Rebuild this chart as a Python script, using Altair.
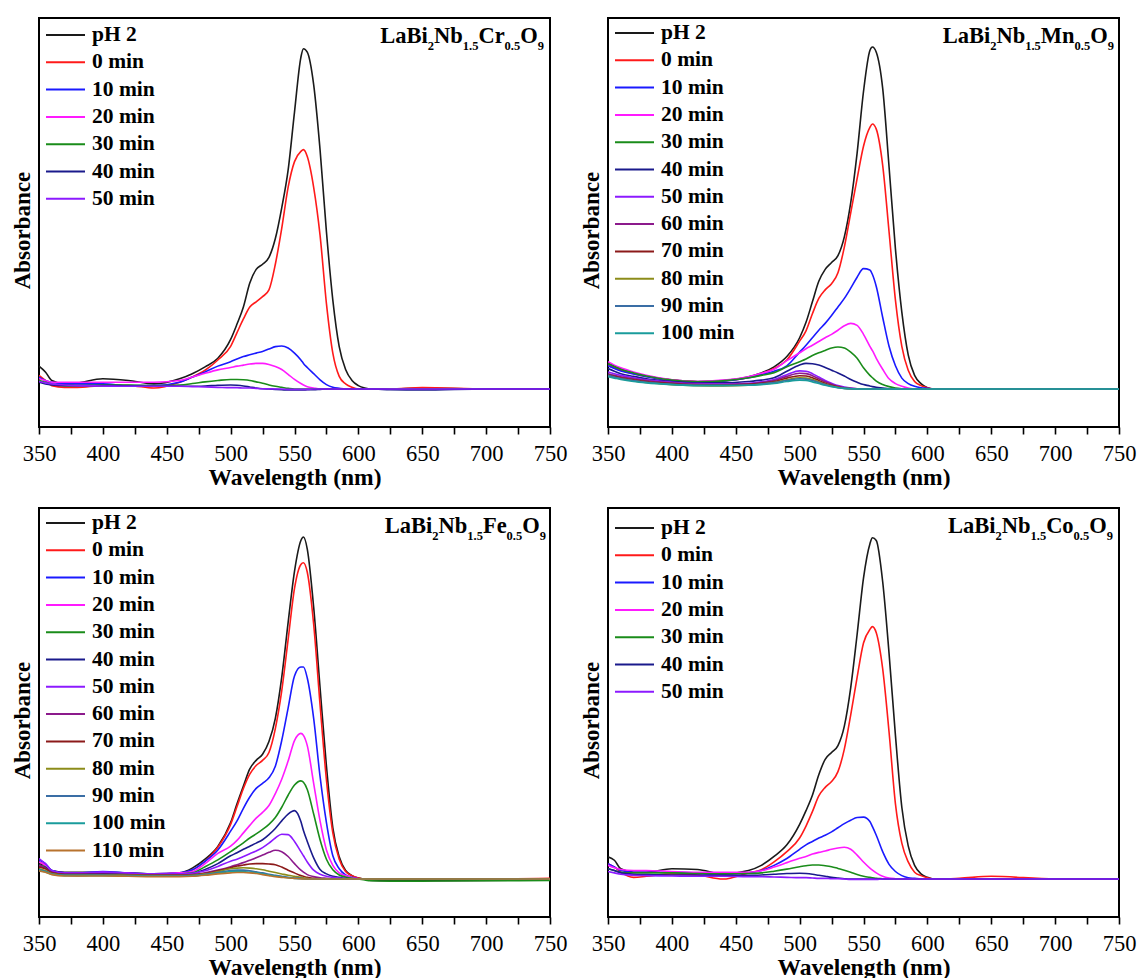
import altair as alt
import pandas as pd

# Wavelength grid (nm) shared by every spectrum
WAVELENGTH = [350, 355, 360, 370, 380, 400, 420, 440, 460, 470, 480, 490,
              500, 505, 510, 515, 520, 525, 530, 535, 540, 545, 550, 555,
              557,
              560, 565, 570, 575, 580, 585, 590, 595, 600, 605, 610,
              625, 650, 700, 750]

SERIES = ["pH 2", "0 min", "10 min", "20 min", "30 min", "40 min", "50 min",
          "60 min", "70 min", "80 min", "90 min", "100 min", "110 min"]
LINE_COLORS = ["#1a1a1a", "#ff1a1a", "#1a1aff", "#ff1aff", "#1a8c1a", "#1a1a8c", "#8c1aff",
               "#8c1a8c", "#8c1a1a", "#8c8c1a", "#3a6ea5", "#1a9c9c", "#b8732e"]

# ---- LaBi2Nb1.5Cr0.5O9 ----
CR_PH2 = [0.067, 0.05, 0.025, 0.015, 0.018, 0.03, 0.025, 0.015, 0.03, 0.045, 0.065, 0.09,
          0.145, 0.19, 0.24, 0.31, 0.35, 0.365, 0.385, 0.44, 0.53, 0.64, 0.81, 0.97,
          0.995,
          0.985, 0.89, 0.70, 0.46, 0.26, 0.124, 0.057, 0.025, 0.01, 0.003, 0.0,
          0.0, 0.003, 0.0, 0.0]
CR_0 = [0.04, 0.025, 0.01, 0.005, 0.005, 0.01, 0.01, 0.003, 0.02, 0.035, 0.055, 0.085,
        0.125, 0.165, 0.205, 0.24, 0.255, 0.27, 0.29, 0.365, 0.47, 0.59, 0.665, 0.695,
        0.70,
        0.68, 0.59, 0.45, 0.25, 0.105, 0.037, 0.015, 0.005, 0.0, 0.0, 0.0,
        0.0, 0.004, 0.0, 0.0]
CR_10 = [0.035, 0.025, 0.02, 0.015, 0.015, 0.015, 0.01, 0.01, 0.02, 0.035, 0.05, 0.067,
         0.08, 0.088, 0.095, 0.1, 0.105, 0.11, 0.117, 0.124, 0.126, 0.12, 0.105, 0.085,
         0.075,
         0.063, 0.045, 0.027, 0.013, 0.005, 0.002, 0.0, 0.0, 0.0, 0.0, 0.0,
         0.0, 0.0, 0.0, 0.0]
CR_20 = [0.03, 0.025, 0.02, 0.02, 0.02, 0.02, 0.02, 0.02, 0.025, 0.035, 0.046, 0.056,
         0.063, 0.067, 0.07, 0.073, 0.075, 0.075, 0.072, 0.066, 0.057, 0.043, 0.028, 0.016,
         0.012,
         0.007, 0.003, 0.0, 0.0, 0.0, 0.0, 0.0, 0.0, 0.0, 0.0, 0.0,
         0.0, 0.0, 0.0, 0.0]
CR_30 = [0.025, 0.02, 0.015, 0.01, 0.01, 0.012, 0.012, 0.01, 0.012, 0.016, 0.021, 0.025,
         0.028, 0.028, 0.027, 0.025, 0.021, 0.017, 0.012, 0.008, 0.005, 0.002, 0.0, 0.0,
         0.0,
         0.0, 0.0, 0.0, 0.0, 0.0, 0.0, 0.0, 0.0, 0.0, 0.0, 0.0,
         0.0, 0.0, 0.0, 0.0]
CR_40 = [0.02, 0.015, 0.012, 0.01, 0.01, 0.01, 0.009, 0.008, 0.008, 0.008, 0.009, 0.011,
         0.012, 0.011, 0.009, 0.006, 0.003, 0.001, 0.0, -0.001, -0.002, -0.003, -0.003, -0.003,
         -0.003,
         -0.002, -0.002, -0.001, 0.0, 0.0, 0.0, 0.0, 0.0, 0.0, 0.0, 0.0,
         -0.002, -0.003, 0.0, 0.0]
CR_50 = [0.022, 0.018, 0.015, 0.012, 0.01, 0.009, 0.008, 0.008, 0.008, 0.007, 0.006, 0.005,
         0.004, 0.004, 0.003, 0.003, 0.002, 0.001, 0.001, 0.0, 0.0, -0.001, -0.001, -0.001,
         -0.001,
         -0.001, 0.0, 0.0, 0.0, 0.0, 0.0, 0.0, 0.0, 0.0, 0.0, 0.0,
         0.0, 0.0, 0.0, 0.0]

# ---- LaBi2Nb1.5Mn0.5O9 ----
MN_PH2 = [0.075, 0.066, 0.058, 0.047, 0.038, 0.027, 0.022, 0.025, 0.036, 0.047, 0.065, 0.095,
          0.15, 0.195, 0.255, 0.315, 0.35, 0.37, 0.39, 0.445, 0.545, 0.69, 0.87, 0.99,
          1.0,
          0.985, 0.88, 0.65, 0.41, 0.225, 0.1, 0.04, 0.016, 0.004, 0.0, 0.0,
          0.0, 0.0, 0.0, 0.0]
MN_0 = [0.07, 0.062, 0.055, 0.045, 0.037, 0.026, 0.021, 0.024, 0.034, 0.045, 0.06, 0.085,
        0.14, 0.17, 0.22, 0.265, 0.29, 0.308, 0.34, 0.415, 0.515, 0.615, 0.71, 0.765,
        0.775,
        0.76, 0.655, 0.46, 0.26, 0.125, 0.055, 0.022, 0.01, 0.004, 0.0, 0.0,
        0.0, 0.0, 0.0, 0.0]
MN_10 = [0.068, 0.06, 0.053, 0.044, 0.036, 0.025, 0.02, 0.023, 0.033, 0.042, 0.052, 0.068,
         0.108, 0.128, 0.15, 0.172, 0.192, 0.215, 0.24, 0.265, 0.295, 0.327, 0.352, 0.348,
         0.335,
         0.3, 0.21, 0.125, 0.068, 0.032, 0.016, 0.008, 0.004, 0.002, 0.0, 0.0,
         0.0, 0.0, 0.0, 0.0]
MN_20 = [0.08, 0.07, 0.062, 0.05, 0.04, 0.027, 0.022, 0.026, 0.036, 0.046, 0.058, 0.083,
         0.106, 0.118, 0.128, 0.139, 0.15, 0.16, 0.172, 0.185, 0.192, 0.186, 0.16, 0.125,
         0.112,
         0.09, 0.058, 0.03, 0.016, 0.008, 0.003, 0.0, 0.0, 0.0, 0.0, 0.0,
         0.0, 0.0, 0.0, 0.0]
MN_30 = [0.074, 0.066, 0.058, 0.047, 0.038, 0.026, 0.021, 0.024, 0.033, 0.04, 0.048, 0.065,
         0.08, 0.088, 0.098, 0.106, 0.113, 0.12, 0.123, 0.12, 0.108, 0.09, 0.062, 0.04,
         0.033,
         0.023, 0.013, 0.007, 0.003, 0.001, 0.0, 0.0, 0.0, 0.0, 0.0, 0.0,
         0.0, 0.0, 0.0, 0.0]
MN_40 = [0.06, 0.052, 0.045, 0.037, 0.03, 0.022, 0.018, 0.018, 0.022, 0.026, 0.033, 0.052,
         0.07, 0.075, 0.074, 0.07, 0.063, 0.055, 0.047, 0.038, 0.028, 0.02, 0.013, 0.009,
         0.007,
         0.005, 0.003, 0.001, 0.0, 0.0, 0.0, 0.0, 0.0, 0.0, 0.0, 0.0,
         0.0, 0.0, 0.0, 0.0]
MN_50 = [0.05, 0.045, 0.04, 0.033, 0.027, 0.02, 0.016, 0.015, 0.017, 0.021, 0.028, 0.042,
         0.053, 0.052, 0.045, 0.035, 0.025, 0.017, 0.01, 0.006, 0.003, 0.001, 0.0, 0.0,
         0.0,
         0.0, 0.0, 0.0, 0.0, 0.0, 0.0, 0.0, 0.0, 0.0, 0.0, 0.0,
         0.0, 0.0, 0.0, 0.0]
MN_60 = [0.045, 0.04, 0.036, 0.03, 0.025, 0.018, 0.014, 0.013, 0.015, 0.019, 0.025, 0.037,
         0.046, 0.045, 0.039, 0.03, 0.021, 0.014, 0.008, 0.004, 0.002, 0.001, 0.0, 0.0,
         0.0,
         0.0, 0.0, 0.0, 0.0, 0.0, 0.0, 0.0, 0.0, 0.0, 0.0, 0.0,
         0.0, 0.0, 0.0, 0.0]
MN_70 = [0.042, 0.037, 0.033, 0.027, 0.022, 0.016, 0.012, 0.012, 0.014, 0.017, 0.022, 0.032,
         0.039, 0.038, 0.033, 0.025, 0.017, 0.011, 0.006, 0.003, 0.001, 0.0, 0.0, 0.0,
         0.0,
         0.0, 0.0, 0.0, 0.0, 0.0, 0.0, 0.0, 0.0, 0.0, 0.0, 0.0,
         0.0, 0.0, 0.0, 0.0]
MN_80 = [0.038, 0.034, 0.03, 0.024, 0.019, 0.013, 0.01, 0.009, 0.011, 0.014, 0.019, 0.027,
         0.033, 0.032, 0.028, 0.021, 0.014, 0.009, 0.005, 0.002, 0.001, 0.0, 0.0, 0.0,
         0.0,
         0.0, 0.0, 0.0, 0.0, 0.0, 0.0, 0.0, 0.0, 0.0, 0.0, 0.0,
         0.0, 0.0, 0.0, 0.0]
MN_90 = [0.04, 0.035, 0.031, 0.025, 0.02, 0.014, 0.011, 0.011, 0.012, 0.015, 0.019, 0.025,
         0.03, 0.029, 0.025, 0.019, 0.013, 0.008, 0.004, 0.002, 0.001, 0.0, 0.0, 0.0,
         0.0,
         0.0, 0.0, 0.0, 0.0, 0.0, 0.0, 0.0, 0.0, 0.0, 0.0, 0.0,
         0.0, 0.0, 0.0, 0.0]
MN_100 = [0.036, 0.032, 0.028, 0.022, 0.018, 0.013, 0.01, 0.01, 0.011, 0.013, 0.016, 0.022,
          0.026, 0.025, 0.021, 0.016, 0.011, 0.007, 0.004, 0.002, 0.001, 0.0, 0.0, 0.0,
          0.0,
          0.0, 0.0, 0.0, 0.0, 0.0, 0.0, 0.0, 0.0, 0.0, 0.0, 0.0,
          0.0, 0.0, 0.0, 0.0]

# ---- LaBi2Nb1.5Fe0.5O9 ----
FE_PH2 = [0.045, 0.04, 0.025, 0.02, 0.02, 0.02, 0.018, 0.015, 0.018, 0.032, 0.058, 0.095,
          0.165, 0.22, 0.272, 0.322, 0.347, 0.365, 0.402, 0.47, 0.59, 0.75, 0.9, 0.99,
          1.0,
          0.965, 0.795, 0.56, 0.33, 0.15, 0.065, 0.025, 0.01, 0.003, 0.0, -0.004,
          -0.005, -0.005, -0.004, -0.003]
FE_0 = [0.05, 0.04, 0.02, 0.012, 0.01, 0.012, 0.01, 0.008, 0.015, 0.026, 0.052, 0.093,
        0.16, 0.212, 0.265, 0.307, 0.332, 0.347, 0.37, 0.44, 0.55, 0.7, 0.85, 0.92,
        0.925,
        0.897, 0.745, 0.51, 0.29, 0.135, 0.058, 0.022, 0.01, 0.003, 0.0, 0.0,
        0.0, 0.0, 0.0, 0.002]
FE_10 = [0.055, 0.045, 0.025, 0.018, 0.018, 0.022, 0.018, 0.015, 0.018, 0.027, 0.052, 0.085,
         0.14, 0.17, 0.207, 0.24, 0.265, 0.28, 0.296, 0.33, 0.405, 0.5, 0.594, 0.62,
         0.62,
         0.588, 0.47, 0.3, 0.165, 0.068, 0.03, 0.012, 0.005, 0.001, 0.0, 0.0,
         0.0, 0.0, 0.0, 0.0]
FE_20 = [0.05, 0.04, 0.022, 0.017, 0.017, 0.02, 0.017, 0.015, 0.018, 0.022, 0.045, 0.075,
         0.096, 0.113, 0.135, 0.157, 0.178, 0.195, 0.215, 0.25, 0.292, 0.345, 0.405, 0.426,
         0.42,
         0.39, 0.28, 0.17, 0.085, 0.04, 0.018, 0.01, 0.004, 0.001, 0.0, 0.0,
         0.0, 0.0, 0.0, 0.0]
FE_30 = [0.04, 0.035, 0.02, 0.015, 0.015, 0.016, 0.015, 0.013, 0.015, 0.018, 0.036, 0.056,
         0.08, 0.093, 0.106, 0.12, 0.132, 0.145, 0.16, 0.18, 0.21, 0.245, 0.275, 0.287,
         0.283,
         0.262, 0.19, 0.115, 0.058, 0.027, 0.012, 0.006, 0.002, 0.0, -0.003, -0.005,
         -0.006, -0.006, -0.005, -0.004]
FE_40 = [0.04, 0.033, 0.02, 0.015, 0.015, 0.015, 0.013, 0.012, 0.013, 0.016, 0.028, 0.045,
         0.068, 0.077, 0.087, 0.096, 0.105, 0.115, 0.13, 0.148, 0.17, 0.19, 0.2, 0.168,
         0.142,
         0.11, 0.062, 0.028, 0.015, 0.008, 0.005, 0.002, 0.0, 0.0, 0.0, 0.0,
         0.0, 0.0, 0.0, 0.0]
FE_50 = [0.06, 0.045, 0.025, 0.018, 0.018, 0.02, 0.017, 0.015, 0.015, 0.017, 0.024, 0.037,
         0.052, 0.058, 0.066, 0.074, 0.082, 0.092, 0.105, 0.12, 0.131, 0.13, 0.11, 0.08,
         0.068,
         0.05, 0.026, 0.014, 0.008, 0.005, 0.003, 0.001, 0.0, 0.0, 0.0, 0.0,
         0.0, 0.0, 0.0, 0.0]
FE_60 = [0.04, 0.032, 0.02, 0.014, 0.014, 0.014, 0.013, 0.012, 0.012, 0.013, 0.018, 0.026,
         0.036, 0.042, 0.048, 0.055, 0.062, 0.07, 0.078, 0.084, 0.08, 0.066, 0.045, 0.026,
         0.02,
         0.013, 0.007, 0.004, 0.002, 0.0, 0.0, 0.0, 0.0, 0.0, 0.0, 0.0,
         0.0, 0.0, 0.0, 0.0]
FE_70 = [0.035, 0.03, 0.018, 0.013, 0.013, 0.013, 0.012, 0.011, 0.011, 0.012, 0.016, 0.024,
         0.033, 0.038, 0.041, 0.044, 0.045, 0.045, 0.044, 0.042, 0.035, 0.026, 0.018, 0.01,
         0.008,
         0.005, 0.002, 0.0, 0.0, 0.0, 0.0, 0.0, 0.0, 0.0, 0.0, 0.0,
         0.0, 0.0, 0.0, 0.0]
FE_80 = [0.03, 0.025, 0.016, 0.012, 0.012, 0.012, 0.011, 0.01, 0.01, 0.011, 0.015, 0.022,
         0.03, 0.032, 0.033, 0.032, 0.03, 0.027, 0.023, 0.019, 0.015, 0.011, 0.008, 0.005,
         0.004,
         0.002, 0.0, 0.0, 0.0, 0.0, 0.0, 0.0, 0.0, 0.0, 0.0, 0.0,
         0.0, 0.0, 0.0, 0.0]
FE_90 = [0.028, 0.023, 0.015, 0.011, 0.011, 0.011, 0.01, 0.009, 0.009, 0.01, 0.013, 0.019,
         0.025, 0.026, 0.026, 0.024, 0.021, 0.018, 0.014, 0.011, 0.008, 0.005, 0.003, 0.002,
         0.001,
         0.0, 0.0, 0.0, 0.0, 0.0, 0.0, 0.0, 0.0, 0.0, 0.0, 0.0,
         0.0, 0.0, 0.0, 0.0]
FE_100 = [0.026, 0.021, 0.014, 0.01, 0.01, 0.01, 0.009, 0.008, 0.008, 0.009, 0.012, 0.017,
          0.022, 0.023, 0.022, 0.02, 0.018, 0.015, 0.012, 0.009, 0.006, 0.004, 0.002, 0.001,
          0.001,
          0.0, 0.0, 0.0, 0.0, 0.0, 0.0, 0.0, 0.0, 0.0, 0.0, 0.0,
          0.0, 0.0, 0.0, 0.0]
FE_110 = [0.024, 0.02, 0.013, 0.009, 0.009, 0.009, 0.008, 0.007, 0.007, 0.008, 0.011, 0.015,
          0.018, 0.019, 0.019, 0.018, 0.016, 0.013, 0.01, 0.007, 0.005, 0.003, 0.002, 0.001,
          0.0,
          0.0, 0.0, 0.0, 0.0, 0.0, 0.0, 0.0, 0.0, 0.0, 0.0, 0.0,
          0.0, 0.0, 0.0, 0.0]

# ---- LaBi2Nb1.5Co0.5O9 ----
CO_PH2 = [0.065, 0.055, 0.03, 0.02, 0.02, 0.03, 0.028, 0.015, 0.025, 0.04, 0.066, 0.1,
          0.16, 0.2, 0.245, 0.305, 0.35, 0.37, 0.39, 0.447, 0.56, 0.715, 0.88, 0.98,
          0.998,
          0.99, 0.87, 0.66, 0.42, 0.21, 0.097, 0.04, 0.015, 0.005, 0.0, 0.0,
          0.0, 0.0, 0.0, 0.0]
CO_0 = [0.045, 0.035, 0.02, 0.005, 0.008, 0.015, 0.012, 0.0, 0.018, 0.027, 0.05, 0.08,
        0.12, 0.155, 0.197, 0.243, 0.268, 0.285, 0.314, 0.38, 0.48, 0.59, 0.69, 0.73,
        0.738,
        0.72, 0.615, 0.43, 0.22, 0.105, 0.05, 0.02, 0.01, 0.004, 0.0, 0.0,
        0.002, 0.008, 0.0, 0.0]
CO_10 = [0.045, 0.035, 0.025, 0.02, 0.02, 0.02, 0.018, 0.015, 0.018, 0.025, 0.04, 0.06,
         0.087, 0.1, 0.11, 0.12, 0.128, 0.138, 0.15, 0.162, 0.172, 0.18, 0.181, 0.168,
         0.153,
         0.128, 0.08, 0.043, 0.022, 0.01, 0.004, 0.002, 0.0, 0.0, 0.0, 0.0,
         0.0, 0.0, 0.0, 0.0]
CO_20 = [0.04, 0.033, 0.028, 0.025, 0.025, 0.022, 0.02, 0.02, 0.02, 0.024, 0.035, 0.048,
         0.061, 0.066, 0.073, 0.078, 0.082, 0.087, 0.091, 0.093, 0.087, 0.07, 0.05, 0.032,
         0.026,
         0.018, 0.008, 0.003, 0.001, 0.0, 0.0, 0.0, 0.0, 0.0, 0.0, 0.0,
         0.0, 0.0, 0.0, 0.0]
CO_30 = [0.03, 0.025, 0.02, 0.018, 0.018, 0.018, 0.016, 0.015, 0.016, 0.018, 0.023, 0.029,
         0.036, 0.039, 0.041, 0.041, 0.039, 0.036, 0.031, 0.026, 0.02, 0.013, 0.008, 0.005,
         0.004,
         0.002, 0.001, 0.0, 0.0, 0.0, 0.0, 0.0, 0.0, 0.0, 0.0, 0.0,
         0.0, 0.0, 0.0, 0.0]
CO_40 = [0.03, 0.025, 0.018, 0.014, 0.013, 0.012, 0.012, 0.011, 0.011, 0.012, 0.014, 0.016,
         0.017, 0.016, 0.014, 0.011, 0.008, 0.005, 0.003, 0.001, 0.0, 0.0, 0.0, 0.0,
         0.0,
         0.0, 0.0, 0.0, 0.0, 0.0, 0.0, 0.0, 0.0, 0.0, 0.0, 0.0,
         0.0, 0.0, 0.0, 0.0]
CO_50 = [0.022, 0.018, 0.014, 0.011, 0.01, 0.009, 0.008, 0.008, 0.007, 0.007, 0.006, 0.005,
         0.004, 0.004, 0.003, 0.002, 0.002, 0.001, 0.001, 0.0, -0.001, -0.001, -0.001, -0.001,
         -0.001,
         -0.001, 0.0, 0.0, 0.0, 0.0, 0.0, 0.0, 0.0, 0.0, 0.0, 0.0,
         0.0, 0.0, 0.0, 0.0]

SERIF = "Liberation Serif"
PLOT_W, PLOT_H = 511, 409
Y_DOMAIN = [-0.111, 1.085]
ROW_STEP = 27.3
LABEL_SIZE = 21.5
MAIN_SIZE, SUB_SIZE, SUB_DROP = 22.5, 12.5, 7

# Times-style bold advance widths (per 1000 em) for laying out the formula pieces
BOLD_W = {"L": 667, "a": 500, "B": 667, "i": 278, "N": 722, "b": 556, "C": 722,
          "r": 444, "O": 778, "M": 944, "n": 556, "F": 611, "e": 444, "o": 500,
          ".": 250, "0": 500, "1": 500, "2": 500, "5": 500, "9": 500}

ONE = pd.DataFrame({"k": [0]})


def formula_marks(dopant, right, base):
    parts = [("LaBi", False), ("2", True), ("Nb", False), ("1.5", True),
             (dopant, False), ("0.5", True), ("O", False), ("9", True)]
    sizes = [SUB_SIZE if s else MAIN_SIZE for _, s in parts]
    widths = [sum(BOLD_W[c] for c in t) / 1000 * fs for (t, _), fs in zip(parts, sizes)]
    x = right - sum(widths)
    marks = []
    for (t, sub), fs, w in zip(parts, sizes, widths):
        marks.append(
            alt.Chart(ONE).mark_text(text=t, align="left", baseline="alphabetic", font=SERIF,
                                     fontWeight="bold", fontSize=fs, color="black")
            .encode(x=alt.value(x), y=alt.value(base + (SUB_DROP if sub else 0)))
        )
        x += w
    return marks


def panel(curves, labels, dopant, legend_top, right_gap):
    n = len(curves)
    names = SERIES[:n]
    rows = []
    for name, vals in zip(names, curves):
        for wl, a in zip(WAVELENGTH, vals):
            rows.append({"wavelength": wl, "absorbance": a, "series": name})
    df = pd.DataFrame(rows)
    color_scale = alt.Scale(domain=names, range=LINE_COLORS[:n])

    x_axis = alt.Axis(values=list(range(350, 751, 25)),
                      labelExpr="datum.value % 50 === 0 ? datum.label : ''",
                      tickSize=7, tickWidth=1.6, tickColor="black", domain=False, grid=False,
                      labelFont=SERIF, labelFontSize=22.5, labelColor="black", labelPadding=8,
                      labelOverlap=False, labelFlush=False,
                      title="Wavelength (nm)", titleFont=SERIF, titleFontSize=23.5,
                      titleFontWeight="bold", titleColor="black", titleY=57,
                      titleBaseline="alphabetic")
    y_axis = alt.Axis(title="Absorbance", ticks=False, labels=False, domain=False, grid=False,
                      titleFont=SERIF, titleFontSize=23, titleFontWeight="bold",
                      titleColor="black", titleX=-17, titleY=212, titleBaseline="middle",
                      titleAlign="center", titleAngle=270)

    lines = alt.Chart(df).mark_line(strokeWidth=1.6, interpolate="monotone", clip=True).encode(
        x=alt.X("wavelength:Q", scale=alt.Scale(domain=[350, 750], nice=False, zero=False),
                axis=x_axis),
        y=alt.Y("absorbance:Q", scale=alt.Scale(domain=Y_DOMAIN, nice=False, zero=False),
                axis=y_axis),
        color=alt.Color("series:N", scale=color_scale, legend=None),
    )

    legend_df = pd.DataFrame({"series": names, "label": labels, "idx": list(range(n))})
    idx_scale = alt.Scale(domain=[-legend_top / ROW_STEP, (PLOT_H - legend_top) / ROW_STEP],
                          reverse=True, nice=False, zero=False)
    key_lines = alt.Chart(legend_df).mark_rule(strokeWidth=2).encode(
        x=alt.value(7), x2=alt.value(46),
        y=alt.Y("idx:Q", scale=idx_scale, axis=None),
        color=alt.Color("series:N", scale=color_scale, legend=None),
    )
    key_text = alt.Chart(legend_df).mark_text(
        align="left", baseline="middle", font=SERIF, fontWeight="bold",
        fontSize=LABEL_SIZE, color="black"
    ).encode(
        x=alt.value(53),
        y=alt.Y("idx:Q", scale=idx_scale, axis=None),
        text="label:N",
    )

    formula = formula_marks(dopant, PLOT_W - right_gap, 24.5)
    return (alt.layer(lines, key_lines, key_text, *formula)
            .resolve_scale(y="independent")
            .properties(width=PLOT_W, height=PLOT_H))


LABELS_7 = SERIES[:7]
p_cr = panel([CR_PH2, CR_0, CR_10, CR_20, CR_30, CR_40, CR_50], LABELS_7, "Cr", 17, 6)
p_mn = panel([MN_PH2, MN_0, MN_10, MN_20, MN_30, MN_40, MN_50, MN_60, MN_70, MN_80,
              MN_90, MN_100], SERIES[:12], "Mn", 15, 5)
fe_labels = ["pH 2", "\u00a00 min"] + SERIES[2:13]
p_fe = panel([FE_PH2, FE_0, FE_10, FE_20, FE_30, FE_40, FE_50, FE_60, FE_70, FE_80,
              FE_90, FE_100, FE_110], fe_labels, "Fe", 15, 4)
p_co = panel([CO_PH2, CO_0, CO_10, CO_20, CO_30, CO_40, CO_50], LABELS_7, "Co", 20, 6)

chart = (
    alt.concat(p_cr, p_mn, p_fe, p_co, columns=2, spacing={"row": 81, "column": 58},
               bounds="flush")
    .resolve_scale(color="independent", x="independent", y="independent")
    .properties(padding={"left": 10, "top": 17, "right": 0, "bottom": 0},
                background="white")
    .configure_view(stroke="black", strokeWidth=2)
)

chart.save("out.html", embed_options={"renderer": "svg", "actions": False})
